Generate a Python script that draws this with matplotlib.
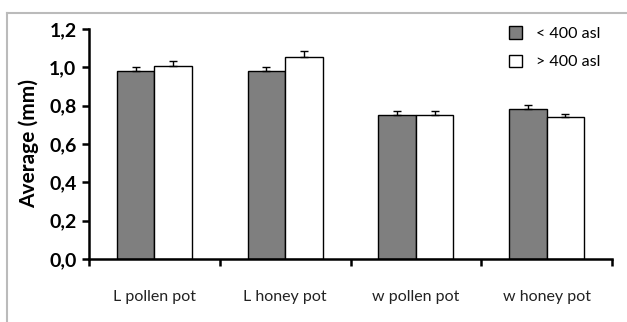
import numpy as np
import matplotlib
matplotlib.use("Agg")
import matplotlib.pyplot as plt
from matplotlib.lines import Line2D

plt.rcParams['font.family'] = ['Lato', 'DejaVu Sans']

categories = ["L pollen pot", "L honey pot", "w pollen pot", "w honey pot"]
low_vals = [0.982, 0.979, 0.750, 0.784]
low_err = [0.021, 0.021, 0.022, 0.020]
high_vals = [1.005, 1.055, 0.750, 0.739]
high_err = [0.028, 0.032, 0.022, 0.018]
series_names = ["< 400 asl", "> 400 asl"]

fig = plt.figure(figsize=(6.27, 3.22), dpi=100)
W, H = 627, 322
ax = fig.add_axes([89 / W, 1 - 259 / H, (612 - 89) / W, (259 - 29) / H])

x = np.arange(len(categories))
w = 0.287
ax.bar(x - w / 2, low_vals, w, color="#7f7f7f", edgecolor="black", linewidth=1.0,
       yerr=[np.zeros(4), low_err], error_kw=dict(ecolor="black", elinewidth=1.0, capsize=3, capthick=1.0),
       label=series_names[0])
ax.bar(x + w / 2, high_vals, w, color="white", edgecolor="black", linewidth=1.0,
       yerr=[np.zeros(4), high_err], error_kw=dict(ecolor="black", elinewidth=1.0, capsize=3, capthick=1.0),
       label=series_names[1])

ax.set_xlim(-0.5, 3.5)
ax.set_ylim(0, 1.2)
ax.set_yticks(np.arange(0, 1.21, 0.2))
ax.set_yticklabels([f"{v:.1f}".replace(".", ",") for v in np.arange(0, 1.21, 0.2)],
                   fontsize=14, fontweight="bold")
ax.set_xticks(np.arange(-0.5, 3.6, 1.0))
ax.set_xticklabels([])
for i, c in enumerate(categories):
    ax.text(i, -0.2, c, ha="center", va="center", fontsize=11.5, color="#222222")

ax.spines["top"].set_visible(False)
ax.spines["right"].set_visible(False)
ax.spines["left"].set_linewidth(1.8)
ax.spines["bottom"].set_linewidth(1.8)
ax.tick_params(axis="both", direction="out", length=5, width=1.8)
ax.tick_params(axis="y", pad=4)
ax.set_ylabel("Average (mm)", fontsize=15, fontweight="bold")
ax.yaxis.set_label_coords(-50 / (612 - 89), 0.5)

leg = ax.legend(loc="upper right", bbox_to_anchor=(1.0, 1.06), frameon=False, fontsize=11.5,
                handlelength=0.8, handleheight=0.8, handletextpad=0.9, labelspacing=0.85,
                borderpad=0.2)

# thin grey frame around the chart area
fig.add_artist(Line2D([7 / W, 7 / W], [0, 1 - 13 / H], color="#bbbbbb", linewidth=1.5))
fig.add_artist(Line2D([7 / W, 1], [1 - 13 / H, 1 - 13 / H], color="#bbbbbb", linewidth=1.5))

fig.savefig("out.png", dpi=100)
